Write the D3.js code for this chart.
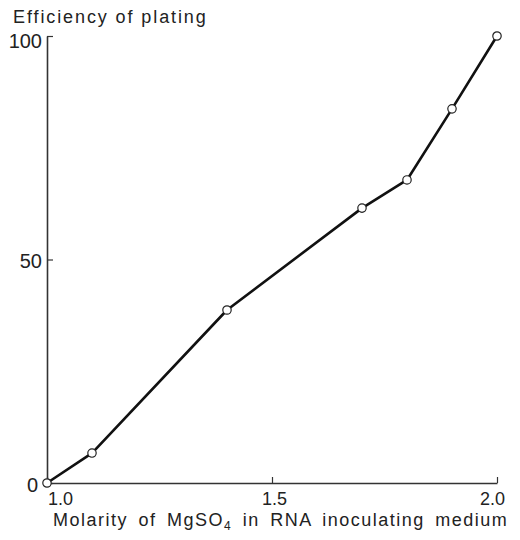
<!DOCTYPE html>
<html>
<head>
<meta charset="utf-8">
<script src="https://cdn.jsdelivr.net/npm/d3@7"></script>
<style>
  body { margin: 0; background: #fff; }
  svg text { font-family: "Liberation Sans", Arial, sans-serif; fill: #222; }
</style>
</head>
<body>
<svg id="svg"></svg>
<script>
// values
var molarity = [1.0, 1.10, 1.40, 1.70, 1.80, 1.90, 2.0];
var efficiency = [0, 6.7, 38.7, 61.5, 67.8, 83.7, 100];
var xTicks = [1.0, 1.5, 2.0];
var yTicks = [0, 50, 100];

var svgWidth = 520, svgHeight = 540;
var margin = { top: 36, right: 23, bottom: 57, left: 47 },
    width = svgWidth - margin.left - margin.right,
    height = svgHeight - margin.top - margin.bottom;

var svg = d3.select('#svg').attr("width", svgWidth).attr("height", svgHeight);
var g = svg.append("g").attr("transform", "translate(" + margin.left + "," + margin.top + ")");

var x = d3.scaleLinear().domain([1.0, 2.0]).range([0, width]);
var y = d3.scaleLinear().domain([0, 100]).range([height, 0]);

var data = molarity.map(function (m, i) { return { m: m, e: efficiency[i] } });

// axes, ticks pointing into the plot
var xAxis = g.append("g").attr("transform", "translate(0," + height + ")")
    .call(d3.axisBottom(x).tickValues(xTicks).tickFormat(d3.format(".1f"))
        .tickSizeInner(-6).tickSizeOuter(0).tickPadding(9));

var yAxis = g.append("g")
    .call(d3.axisLeft(y).tickValues(yTicks).tickFormat(d3.format("d"))
        .tickSizeInner(-6).tickSizeOuter(0).tickPadding(5));

[xAxis, yAxis].forEach(function (ax) {
    ax.select(".domain").attr("stroke", "#333").attr("stroke-width", 1.6);
    ax.selectAll(".tick line").attr("stroke", "#333").attr("stroke-width", 1.2);
    ax.selectAll(".tick text").attr("fill", "#222")
        .attr("font-family", "Liberation Sans, Arial, sans-serif");
});
yAxis.selectAll(".tick text").attr("font-size", 20);
xAxis.selectAll(".tick text").attr("font-size", 18);

xAxis.selectAll(".tick text").attr("dx", function (d) {
    if (d === 1.0) return 13;
    if (d === 2.0) return -5;
    return 2;
});
yAxis.selectAll(".tick text")
    .attr("dx", function (d) { return d === 0 ? -4 : 0; })
    .attr("dy", function (d) { return d === 100 ? "0.55em" : "0.4em"; });

// the curve
var line = d3.line().x(function (d) { return x(d.m) }).y(function (d) { return y(d.e) });

g.append("path").datum(data)
    .attr("fill", "none").attr("stroke", "#111").attr("stroke-width", 2.6)
    .attr("stroke-linejoin", "round").attr("d", line);

g.selectAll("circle").data(data).enter().append("circle")
    .attr("cx", function (d) { return x(d.m) })
    .attr("cy", function (d) { return y(d.e) })
    .attr("r", 4.2)
    .attr("fill", "#fff").attr("stroke", "#222").attr("stroke-width", 1.2);

// titles
svg.append("text")
    .attr("x", 13).attr("y", 23)
    .attr("font-size", 18).style("letter-spacing", "1.9px")
    .text("Efficiency of plating");

var xl = svg.append("text")
    .attr("x", 53).attr("y", 526)
    .attr("font-size", 18).style("letter-spacing", "1.5px").style("word-spacing", "4px");
xl.append("tspan").text("Molarity of MgSO");
xl.append("tspan").attr("font-size", 12).attr("dy", 4).text("4");
xl.append("tspan").attr("dy", -4).text(" in RNA inoculating medium");
</script>
</body>
</html>
